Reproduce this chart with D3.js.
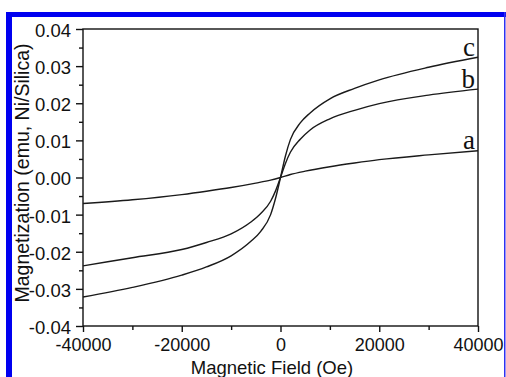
<!DOCTYPE html>
<html><head><meta charset="utf-8">
<script src="https://cdn.jsdelivr.net/npm/d3@7"></script>
<style>html,body{margin:0;padding:0;background:#fff;}svg{display:block;}</style>
</head><body>
<svg id="chart" width="506" height="377"></svg>
<script>
// Data
const fieldA = [-40000,-30000,-20000,-15000,-10000,-5000,-2000,0,2000,5000,10000,15000,20000,30000,40000];
const magA   = [-0.0070,-0.0060,-0.0046,-0.0037,-0.0027,-0.0015,-0.0007,0,0.0008,0.0017,0.0029,0.0039,0.0048,0.0061,0.0072];
const fieldB = [-40000,-30000,-20000,-15000,-10000,-6000,-4000,-2000,-1000,0,1000,2000,4000,6000,10000,15000,20000,30000,40000];
const magB   = [-0.0238,-0.0216,-0.0194,-0.0175,-0.0152,-0.0120,-0.0097,-0.0064,-0.0036,0,0.0038,0.0068,0.0103,0.0128,0.0158,0.0181,0.0199,0.0222,0.0238];
const fieldC = [-40000,-30000,-20000,-15000,-10000,-6000,-4000,-2000,-1000,0,1000,2000,4000,6000,10000,15000,20000,30000,40000];
const magC   = [-0.0322,-0.0296,-0.0263,-0.0241,-0.0211,-0.0172,-0.0145,-0.0100,-0.0056,0,0.0058,0.0102,0.0147,0.0174,0.0212,0.0240,0.0263,0.0297,0.0324];
const seriesLabels = ["a","b","c"];
const xTicks = [-40000,-20000,0,20000,40000];
const xTickLabels = ["-40000","-20000","0","20000","40000"];
const xMinor = [-30000,-10000,10000,30000];
const yTicks = [-0.04,-0.03,-0.02,-0.01,0,0.01,0.02,0.03,0.04];
const yTickLabels = ["-0.04","-0.03","-0.02","-0.01","0.00","0.01","0.02","0.03","0.04"];
const yMinor = [-0.035,-0.025,-0.015,-0.005,0.005,0.015,0.025,0.035];
const xTitle = "Magnetic Field (Oe)";
const yTitle = "Magnetization (emu, Ni/Silica)";

const svg = d3.select("#chart");
const L = 83, R = 478, T = 29, B = 326;
const x = d3.scaleLinear().domain([-40000,40000]).range([L,R]);
const y = d3.scaleLinear().domain([-0.04,0.04]).range([B,T]);

// blue frame
svg.append("rect").attr("x",6).attr("y",12).attr("width",6).attr("height",365).attr("fill","#0000f0");
svg.append("rect").attr("x",6).attr("y",12).attr("width",500).attr("height",5).attr("fill","#0000f0");
svg.append("rect").attr("x",504).attr("y",12).attr("width",1.5).attr("height",365).attr("fill","#3030f0");

const font = "'Liberation Sans', Arial, sans-serif";

// plot frame
svg.append("rect").attr("x",L).attr("y",T).attr("width",R-L).attr("height",B-T)
  .attr("fill","none").attr("stroke","#111").attr("stroke-width",1.4);

// x axis
const xAxis = d3.axisBottom(x).tickValues(xTicks).tickSize(6).tickPadding(2).tickFormat((d,i)=>xTickLabels[i]);
const gx = svg.append("g").attr("transform",`translate(0,${B})`).call(xAxis);
gx.select(".domain").remove();
gx.selectAll("line").attr("stroke","#111").attr("stroke-width",1.4);
gx.selectAll("text").attr("font-family",font).attr("font-size",18).attr("fill","#111").attr("dy","0.95em");
const gxm = svg.append("g").attr("transform",`translate(0,${B})`).call(d3.axisBottom(x).tickValues(xMinor).tickSize(4).tickFormat(""));
gxm.select(".domain").remove();
gxm.selectAll("line").attr("stroke","#111").attr("stroke-width",1.4);

// y axis
const yAxis = d3.axisLeft(y).tickValues(yTicks).tickSize(7).tickPadding(5).tickFormat((d,i)=>yTickLabels[i]);
const gy = svg.append("g").attr("transform",`translate(${L},0)`).call(yAxis);
gy.select(".domain").remove();
gy.selectAll("line").attr("stroke","#111").attr("stroke-width",1.4);
gy.selectAll("text").attr("font-family",font).attr("font-size",18.5).attr("fill","#111").attr("dy","0.4em");
const gym = svg.append("g").attr("transform",`translate(${L},0)`).call(d3.axisLeft(y).tickValues(yMinor).tickSize(4).tickFormat(""));
gym.select(".domain").remove();
gym.selectAll("line").attr("stroke","#111").attr("stroke-width",1.4);

// curves
const line = d3.line().x(d=>x(d[0])).y(d=>y(d[1])).curve(d3.curveMonotoneX);
const series = [d3.zip(fieldA,magA), d3.zip(fieldB,magB), d3.zip(fieldC,magC)];
series.forEach(s=>{
  svg.append("path").datum(s).attr("d",line).attr("fill","none").attr("stroke","#1a1a1a").attr("stroke-width",1.4);
});

// curve labels
const serif = "'Liberation Serif', 'Times New Roman', serif";
series.forEach((s,i)=>{
  const last = s[s.length-1];
  svg.append("text").attr("x",x(last[0])-3).attr("y",y(last[1])-1.5)
    .attr("text-anchor","end").attr("font-family",serif).attr("font-size",27).attr("fill","#111")
    .text(seriesLabels[i]);
});

// titles
svg.append("text").attr("x",272).attr("y",374).attr("text-anchor","middle")
  .attr("font-family",font).attr("font-size",18.5).attr("fill","#111").text(xTitle);
svg.append("text").attr("transform",`translate(29,173) rotate(-90)`).attr("text-anchor","middle")
  .attr("font-family",font).attr("font-size",19.5).attr("fill","#111").text(yTitle);
</script>
</body></html>
